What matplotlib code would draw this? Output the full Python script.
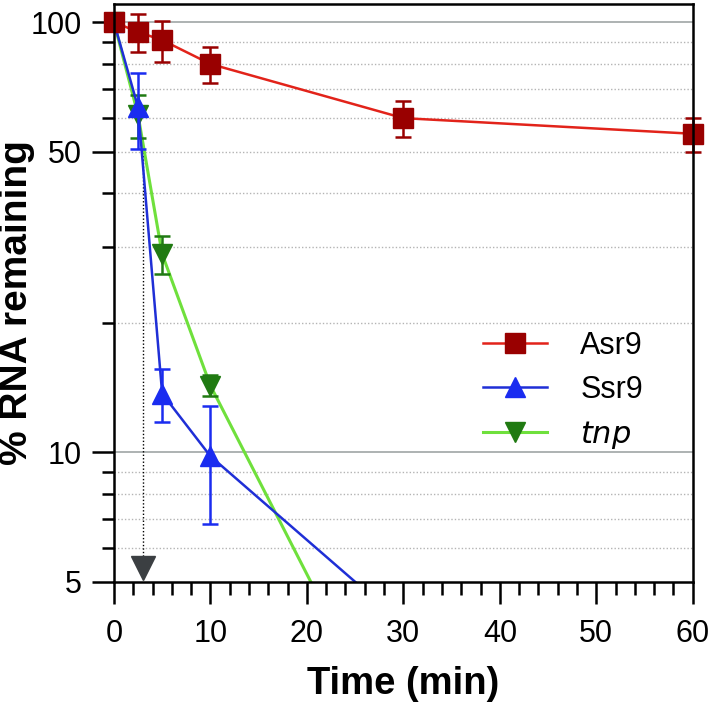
import matplotlib
matplotlib.use("Agg")
import matplotlib.pyplot as plt
from matplotlib.lines import Line2D
from matplotlib.ticker import FixedLocator, NullFormatter


# DATOS

tiempo = [0, 2.5, 5, 10, 30, 60]

asr9_pct = [100, 94.8, 90.8, 79.9, 59.8, 55.0]
asr9_err = [0, 9.8, 9.9, 7.8, 5.6, 5.0]

ssr9_tiempo = [0, 2.5, 5, 10]
ssr9_pct = [100, 63.4, 13.7, 9.8]
ssr9_err = [0, 12.8, 1.95, 3.0]
# la recta continua hacia el punto de 30 min, fuera del rango visible
ssr9_linea_tiempo = [0, 2.5, 5, 10, 30]
ssr9_linea_pct = [100, 63.4, 13.7, 9.8, 4.0]

tnp_tiempo = [0, 2.5, 5, 10]
tnp_pct = [100, 60.8, 28.9, 14.3]
tnp_err = [0, 7.0, 2.9, 0.8]
tnp_linea_tiempo = [0, 2.5, 5, 10, 30]
tnp_linea_pct = [100, 60.8, 28.9, 14.3, 1.9]

# vida media marcada con la flecha punteada
vida_media = 3.04
vida_media_desde = 50
vida_media_marca = 5.4

y_mayores = [5, 10, 50, 100]
y_etiquetas = ["5", "10", "50", "100"]
y_menores = [6, 7, 8, 9, 20, 30, 40, 60, 70, 80, 90]
grid_solido = [10, 100]
grid_punteado = [6, 7, 8, 9, 20, 30, 40, 50, 60, 70, 80, 90]

series = ["Asr9", "Ssr9", "$\\it{tnp}$"]


# ESTILO

plt.rcParams["font.family"] = ["Liberation Sans", "DejaVu Sans"]

ROJO_LINEA = "#e2231a"
ROJO_MARCA = "#990000"
AZUL_LINEA = "#1f2fd6"
AZUL_MARCA = "#1a2cf0"
VERDE_LINEA = "#6fe03c"
VERDE_MARCA = "#207a12"
GRIS_MARCA = "#3b3f42"


# FIGURA

fig = plt.figure(figsize=(7.12, 7.02), dpi=100)
ax = fig.add_axes([0.160, 0.171, 0.813, 0.823])

ax.set_yscale("log")
ax.set_xlim(0, 60)
ax.set_ylim(5, 110)

# lineas de referencia
for v in grid_solido:
    ax.axhline(v, color="#a7adad", lw=1.3, zorder=0)
for v in grid_punteado:
    ax.axhline(v, color="#b4b4b4", lw=1.0, ls=(0, (1, 1.5)), zorder=0)

# vida media
ax.plot(
    [vida_media, vida_media],
    [vida_media_desde, vida_media_marca],
    color="black",
    lw=1.0,
    ls=(0, (1, 1.5)),
    zorder=1
)
ax.plot(
    [vida_media],
    [vida_media_marca],
    marker="v",
    ms=17,
    color=GRIS_MARCA,
    zorder=2,
    clip_on=False
)

# tnp
ax.plot(tnp_linea_tiempo, tnp_linea_pct, color=VERDE_LINEA, lw=2.2, zorder=3)
ax.errorbar(
    tnp_tiempo, tnp_pct, yerr=tnp_err,
    fmt="v", ms=15, color=VERDE_MARCA,
    elinewidth=1.8, capsize=6, capthick=1.8, zorder=4
)

# Ssr9
ax.plot(ssr9_linea_tiempo, ssr9_linea_pct, color=AZUL_LINEA, lw=1.8, zorder=5)
ax.errorbar(
    ssr9_tiempo, ssr9_pct, yerr=ssr9_err,
    fmt="^", ms=15, color=AZUL_MARCA,
    elinewidth=1.8, capsize=6, capthick=1.8, zorder=6
)

# Asr9
ax.plot(tiempo, asr9_pct, color=ROJO_LINEA, lw=1.8, zorder=7, clip_on=False)
ax.errorbar(
    tiempo, asr9_pct, yerr=asr9_err,
    fmt="s", ms=15, color=ROJO_MARCA, mec=ROJO_MARCA,
    elinewidth=1.8, capsize=6, capthick=1.8, zorder=8, clip_on=False
)


# EJES

for lado in ["left", "right", "top", "bottom"]:
    ax.spines[lado].set_linewidth(1.8)
    ax.spines[lado].set_zorder(9)

ax.yaxis.set_major_locator(FixedLocator(y_mayores))
ax.yaxis.set_minor_locator(FixedLocator(y_menores))
ax.set_yticklabels(y_etiquetas)
ax.yaxis.set_minor_formatter(NullFormatter())

ax.set_xticks(range(0, 61, 10))
ax.set_xticks(range(0, 61, 2), minor=True)

ax.tick_params(axis="both", which="major", length=16, width=1.8,
               labelsize=22, direction="out")
ax.tick_params(axis="both", which="minor", length=9, width=1.8,
               direction="out")
ax.tick_params(axis="x", which="major", pad=11)
ax.tick_params(axis="y", which="major", pad=7)

ax.set_xlabel("Time (min)", fontsize=27.5, fontweight="bold", labelpad=12)
ax.set_ylabel("% RNA remaining", fontsize=28, fontweight="bold")
ax.yaxis.set_label_coords(-0.136, 0.4835)


# LEYENDA

handles = [
    Line2D([], [], color=ROJO_LINEA, lw=1.8, marker="s", ms=15,
           mfc=ROJO_MARCA, mec=ROJO_MARCA),
    Line2D([], [], color=AZUL_LINEA, lw=1.8, marker="^", ms=15,
           mfc=AZUL_MARCA, mec=AZUL_MARCA),
    Line2D([], [], color=VERDE_LINEA, lw=2.2, marker="v", ms=15,
           mfc=VERDE_MARCA, mec=VERDE_MARCA),
]

ax.legend(
    handles,
    series,
    loc="upper left",
    bbox_to_anchor=(0.637, 0.435),
    frameon=False,
    fontsize=22,
    handlelength=2.1,
    handletextpad=1.1,
    labelspacing=0.46,
    borderpad=0,
    borderaxespad=0
)

fig.savefig("out.png", dpi=100)
